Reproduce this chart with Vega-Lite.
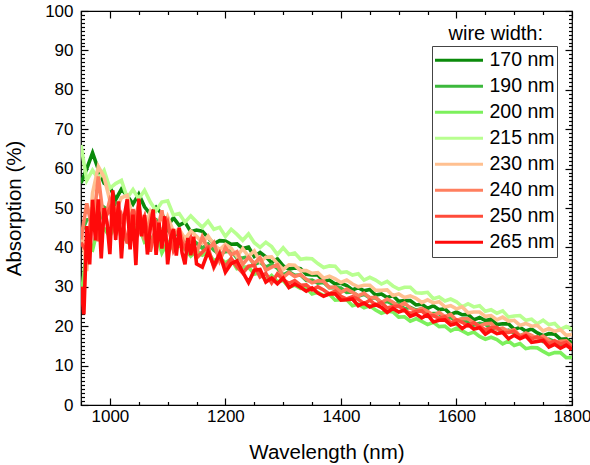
{
  "$schema": "https://vega.github.io/schema/vega-lite/v6.json",
  "width": 491,
  "height": 394,
  "autosize": {"type": "none"},
  "padding": {"left": 81, "top": 11, "right": 18, "bottom": 60},
  "background": "white",
  "config": {
    "font": "Liberation Sans",
    "view": {"stroke": "black", "strokeWidth": 1.2},
    "axis": {"grid": false, "domain": false, "tickColor": "black", "labelColor": "black", "titleColor": "black", "titleFontWeight": "normal", "labelFont": "Liberation Sans", "titleFont": "Liberation Sans", "tickWidth": 1.2}
  },
  "resolve": {"axis": {"x": "independent", "y": "independent"}},
  "layer": [
    {
      "data": {"values": [
{"s":"170 nm","w":950,"a":56.3},{"s":"170 nm","w":960,"a":60},{"s":"170 nm","w":970,"a":64},{"s":"170 nm","w":980,"a":59.8},{"s":"170 nm","w":990,"a":56.3},{"s":"170 nm","w":1000,"a":55.4},{"s":"170 nm","w":1010,"a":52.1},{"s":"170 nm","w":1020,"a":54.8},{"s":"170 nm","w":1030,"a":53.1},{"s":"170 nm","w":1040,"a":51},
{"s":"170 nm","w":1050,"a":53.5},{"s":"170 nm","w":1060,"a":50.3},{"s":"170 nm","w":1070,"a":48.4},{"s":"170 nm","w":1080,"a":50.2},{"s":"170 nm","w":1090,"a":48.5},{"s":"170 nm","w":1100,"a":45.5},{"s":"170 nm","w":1110,"a":47.5},{"s":"170 nm","w":1120,"a":45.6},{"s":"170 nm","w":1130,"a":46.4},{"s":"170 nm","w":1140,"a":44},
{"s":"170 nm","w":1150,"a":44.4},{"s":"170 nm","w":1160,"a":44.1},{"s":"170 nm","w":1170,"a":42.5},{"s":"170 nm","w":1180,"a":40.9},{"s":"170 nm","w":1190,"a":41.7},{"s":"170 nm","w":1200,"a":41.6},{"s":"170 nm","w":1210,"a":40.8},{"s":"170 nm","w":1220,"a":40.9},{"s":"170 nm","w":1230,"a":39.7},{"s":"170 nm","w":1240,"a":40.1},
{"s":"170 nm","w":1250,"a":37.7},{"s":"170 nm","w":1260,"a":38.7},{"s":"170 nm","w":1270,"a":37.6},{"s":"170 nm","w":1280,"a":36.1},{"s":"170 nm","w":1290,"a":37.1},{"s":"170 nm","w":1300,"a":35.3},{"s":"170 nm","w":1310,"a":34.5},{"s":"170 nm","w":1320,"a":34.8},{"s":"170 nm","w":1330,"a":34.6},{"s":"170 nm","w":1340,"a":33.2},
{"s":"170 nm","w":1350,"a":33},{"s":"170 nm","w":1360,"a":33},{"s":"170 nm","w":1370,"a":31.4},{"s":"170 nm","w":1380,"a":31.7},{"s":"170 nm","w":1390,"a":30.7},{"s":"170 nm","w":1400,"a":30.9},{"s":"170 nm","w":1410,"a":30.3},{"s":"170 nm","w":1420,"a":29.2},{"s":"170 nm","w":1430,"a":29.8},{"s":"170 nm","w":1440,"a":29},
{"s":"170 nm","w":1450,"a":29.3},{"s":"170 nm","w":1460,"a":27.9},{"s":"170 nm","w":1470,"a":28.2},{"s":"170 nm","w":1480,"a":27.3},{"s":"170 nm","w":1490,"a":27.8},{"s":"170 nm","w":1500,"a":26.3},{"s":"170 nm","w":1510,"a":26.5},{"s":"170 nm","w":1520,"a":26.5},{"s":"170 nm","w":1530,"a":25.4},{"s":"170 nm","w":1540,"a":25.6},
{"s":"170 nm","w":1550,"a":24.5},{"s":"170 nm","w":1560,"a":25.2},{"s":"170 nm","w":1570,"a":24.2},{"s":"170 nm","w":1580,"a":24.4},{"s":"170 nm","w":1590,"a":23},{"s":"170 nm","w":1600,"a":23.6},{"s":"170 nm","w":1610,"a":22.9},{"s":"170 nm","w":1620,"a":23},{"s":"170 nm","w":1630,"a":21.6},{"s":"170 nm","w":1640,"a":22.2},
{"s":"170 nm","w":1650,"a":21.4},{"s":"170 nm","w":1660,"a":21.8},{"s":"170 nm","w":1670,"a":20.4},{"s":"170 nm","w":1680,"a":20.6},{"s":"170 nm","w":1690,"a":20.6},{"s":"170 nm","w":1700,"a":19.2},{"s":"170 nm","w":1710,"a":19.7},{"s":"170 nm","w":1720,"a":18.8},{"s":"170 nm","w":1730,"a":19.3},{"s":"170 nm","w":1740,"a":18.3},
{"s":"170 nm","w":1750,"a":17.6},{"s":"170 nm","w":1760,"a":18.1},{"s":"170 nm","w":1770,"a":18},{"s":"170 nm","w":1780,"a":16.7},{"s":"170 nm","w":1790,"a":16.8},{"s":"170 nm","w":1800,"a":15.7},
{"s":"190 nm","w":950,"a":43.6},{"s":"190 nm","w":960,"a":47},{"s":"190 nm","w":970,"a":47.2},{"s":"190 nm","w":980,"a":46.2},{"s":"190 nm","w":990,"a":50.2},{"s":"190 nm","w":1000,"a":49.2},{"s":"190 nm","w":1010,"a":51},{"s":"190 nm","w":1020,"a":47.6},{"s":"190 nm","w":1030,"a":48.8},{"s":"190 nm","w":1040,"a":49},
{"s":"190 nm","w":1050,"a":46.8},{"s":"190 nm","w":1060,"a":44.8},{"s":"190 nm","w":1070,"a":46.6},{"s":"190 nm","w":1080,"a":47},{"s":"190 nm","w":1090,"a":43.6},{"s":"190 nm","w":1100,"a":44.4},{"s":"190 nm","w":1110,"a":43.1},{"s":"190 nm","w":1120,"a":43.5},{"s":"190 nm","w":1130,"a":41.2},{"s":"190 nm","w":1140,"a":42.2},
{"s":"190 nm","w":1150,"a":41.1},{"s":"190 nm","w":1160,"a":39.8},{"s":"190 nm","w":1170,"a":40.9},{"s":"190 nm","w":1180,"a":39.3},{"s":"190 nm","w":1190,"a":38.2},{"s":"190 nm","w":1200,"a":38.9},{"s":"190 nm","w":1210,"a":39.1},{"s":"190 nm","w":1220,"a":37.3},{"s":"190 nm","w":1230,"a":37.3},{"s":"190 nm","w":1240,"a":37.7},
{"s":"190 nm","w":1250,"a":35.6},{"s":"190 nm","w":1260,"a":36.3},{"s":"190 nm","w":1270,"a":35},{"s":"190 nm","w":1280,"a":35.7},{"s":"190 nm","w":1290,"a":34.7},{"s":"190 nm","w":1300,"a":33},{"s":"190 nm","w":1310,"a":33.8},{"s":"190 nm","w":1320,"a":32.9},{"s":"190 nm","w":1330,"a":33},{"s":"190 nm","w":1340,"a":31.6},
{"s":"190 nm","w":1350,"a":31.7},{"s":"190 nm","w":1360,"a":30.9},{"s":"190 nm","w":1370,"a":31.1},{"s":"190 nm","w":1380,"a":29.8},{"s":"190 nm","w":1390,"a":29.8},{"s":"190 nm","w":1400,"a":29.7},{"s":"190 nm","w":1410,"a":28.6},{"s":"190 nm","w":1420,"a":28.7},{"s":"190 nm","w":1430,"a":27.6},{"s":"190 nm","w":1440,"a":28.1},
{"s":"190 nm","w":1450,"a":27.2},{"s":"190 nm","w":1460,"a":27.2},{"s":"190 nm","w":1470,"a":26},{"s":"190 nm","w":1480,"a":26.3},{"s":"190 nm","w":1490,"a":25.6},{"s":"190 nm","w":1500,"a":25.7},{"s":"190 nm","w":1510,"a":24.4},{"s":"190 nm","w":1520,"a":24.8},{"s":"190 nm","w":1530,"a":24.1},{"s":"190 nm","w":1540,"a":24.4},
{"s":"190 nm","w":1550,"a":23.1},{"s":"190 nm","w":1560,"a":23.2},{"s":"190 nm","w":1570,"a":23.2},{"s":"190 nm","w":1580,"a":21.9},{"s":"190 nm","w":1590,"a":22.2},{"s":"190 nm","w":1600,"a":21.5},{"s":"190 nm","w":1610,"a":21.8},{"s":"190 nm","w":1620,"a":20.9},{"s":"190 nm","w":1630,"a":20.3},{"s":"190 nm","w":1640,"a":20.7},
{"s":"190 nm","w":1650,"a":20.5},{"s":"190 nm","w":1660,"a":19.4},{"s":"190 nm","w":1670,"a":19.4},{"s":"190 nm","w":1680,"a":18.5},{"s":"190 nm","w":1690,"a":19},{"s":"190 nm","w":1700,"a":18.3},{"s":"190 nm","w":1710,"a":17.6},{"s":"190 nm","w":1720,"a":18.1},{"s":"190 nm","w":1730,"a":17.1},{"s":"190 nm","w":1740,"a":17.2},
{"s":"190 nm","w":1750,"a":16.1},{"s":"190 nm","w":1760,"a":16.7},{"s":"190 nm","w":1770,"a":16.1},{"s":"190 nm","w":1780,"a":15.4},{"s":"190 nm","w":1790,"a":15.8},{"s":"190 nm","w":1800,"a":14.9},
{"s":"200 nm","w":950,"a":27.1},{"s":"200 nm","w":960,"a":39.8},{"s":"200 nm","w":970,"a":39.3},{"s":"200 nm","w":980,"a":45.5},{"s":"200 nm","w":990,"a":44.8},{"s":"200 nm","w":1000,"a":42.7},{"s":"200 nm","w":1010,"a":46.6},{"s":"200 nm","w":1020,"a":43.3},{"s":"200 nm","w":1030,"a":41.5},{"s":"200 nm","w":1040,"a":44.5},
{"s":"200 nm","w":1050,"a":45.7},{"s":"200 nm","w":1060,"a":41.3},{"s":"200 nm","w":1070,"a":42},{"s":"200 nm","w":1080,"a":43.6},{"s":"200 nm","w":1090,"a":38.6},{"s":"200 nm","w":1100,"a":41.4},{"s":"200 nm","w":1110,"a":39.5},{"s":"200 nm","w":1120,"a":40.4},{"s":"200 nm","w":1130,"a":39.5},{"s":"200 nm","w":1140,"a":37.8},
{"s":"200 nm","w":1150,"a":39.1},{"s":"200 nm","w":1160,"a":38},{"s":"200 nm","w":1170,"a":38.7},{"s":"200 nm","w":1180,"a":36.6},{"s":"200 nm","w":1190,"a":37.4},{"s":"200 nm","w":1200,"a":36.1},{"s":"200 nm","w":1210,"a":37},{"s":"200 nm","w":1220,"a":34.6},{"s":"200 nm","w":1230,"a":35},{"s":"200 nm","w":1240,"a":35},
{"s":"200 nm","w":1250,"a":33.2},{"s":"200 nm","w":1260,"a":33.6},{"s":"200 nm","w":1270,"a":31.7},{"s":"200 nm","w":1280,"a":32.9},{"s":"200 nm","w":1290,"a":31.3},{"s":"200 nm","w":1300,"a":31.6},{"s":"200 nm","w":1310,"a":29.9},{"s":"200 nm","w":1320,"a":30.4},{"s":"200 nm","w":1330,"a":29.6},{"s":"200 nm","w":1340,"a":29.7},
{"s":"200 nm","w":1350,"a":28.2},{"s":"200 nm","w":1360,"a":28.6},{"s":"200 nm","w":1370,"a":27.8},{"s":"200 nm","w":1380,"a":28.1},{"s":"200 nm","w":1390,"a":26.6},{"s":"200 nm","w":1400,"a":26.7},{"s":"200 nm","w":1410,"a":26.7},{"s":"200 nm","w":1420,"a":25.2},{"s":"200 nm","w":1430,"a":25.6},{"s":"200 nm","w":1440,"a":24.7},
{"s":"200 nm","w":1450,"a":25.2},{"s":"200 nm","w":1460,"a":24.1},{"s":"200 nm","w":1470,"a":23.3},{"s":"200 nm","w":1480,"a":23.8},{"s":"200 nm","w":1490,"a":23.6},{"s":"200 nm","w":1500,"a":22.3},{"s":"200 nm","w":1510,"a":22.4},{"s":"200 nm","w":1520,"a":21.3},{"s":"200 nm","w":1530,"a":21.9},{"s":"200 nm","w":1540,"a":21.2},
{"s":"200 nm","w":1550,"a":20.4},{"s":"200 nm","w":1560,"a":21},{"s":"200 nm","w":1570,"a":19.9},{"s":"200 nm","w":1580,"a":20},{"s":"200 nm","w":1590,"a":18.8},{"s":"200 nm","w":1600,"a":19.5},{"s":"200 nm","w":1610,"a":18.8},{"s":"200 nm","w":1620,"a":18},{"s":"200 nm","w":1630,"a":18.5},{"s":"200 nm","w":1640,"a":17.4},
{"s":"200 nm","w":1650,"a":16.7},{"s":"200 nm","w":1660,"a":17.2},{"s":"200 nm","w":1670,"a":16.6},{"s":"200 nm","w":1680,"a":15.5},{"s":"200 nm","w":1690,"a":16.2},{"s":"200 nm","w":1700,"a":15.1},{"s":"200 nm","w":1710,"a":15.6},{"s":"200 nm","w":1720,"a":14.3},{"s":"200 nm","w":1730,"a":14.6},{"s":"200 nm","w":1740,"a":14.5},
{"s":"200 nm","w":1750,"a":13.6},{"s":"200 nm","w":1760,"a":12.8},{"s":"200 nm","w":1770,"a":13.3},{"s":"200 nm","w":1780,"a":13.3},{"s":"200 nm","w":1790,"a":12},{"s":"200 nm","w":1800,"a":12.1},
{"s":"215 nm","w":950,"a":66},{"s":"215 nm","w":960,"a":57},{"s":"215 nm","w":970,"a":59.6},{"s":"215 nm","w":980,"a":57.4},{"s":"215 nm","w":990,"a":59.5},{"s":"215 nm","w":1000,"a":55},{"s":"215 nm","w":1010,"a":56.2},{"s":"215 nm","w":1020,"a":57},{"s":"215 nm","w":1030,"a":52.6},{"s":"215 nm","w":1040,"a":54.7},
{"s":"215 nm","w":1050,"a":52.3},{"s":"215 nm","w":1060,"a":54.5},{"s":"215 nm","w":1070,"a":51.5},{"s":"215 nm","w":1080,"a":49.3},{"s":"215 nm","w":1090,"a":51.5},{"s":"215 nm","w":1100,"a":51.8},{"s":"215 nm","w":1110,"a":48.2},{"s":"215 nm","w":1120,"a":48.6},{"s":"215 nm","w":1130,"a":46.4},{"s":"215 nm","w":1140,"a":48},
{"s":"215 nm","w":1150,"a":46.5},{"s":"215 nm","w":1160,"a":45.1},{"s":"215 nm","w":1170,"a":46.7},{"s":"215 nm","w":1180,"a":44.6},{"s":"215 nm","w":1190,"a":45.1},{"s":"215 nm","w":1200,"a":42.8},{"s":"215 nm","w":1210,"a":44.6},{"s":"215 nm","w":1220,"a":43.3},{"s":"215 nm","w":1230,"a":41.8},{"s":"215 nm","w":1240,"a":43.4},
{"s":"215 nm","w":1250,"a":41.2},{"s":"215 nm","w":1260,"a":40},{"s":"215 nm","w":1270,"a":41.3},{"s":"215 nm","w":1280,"a":40.2},{"s":"215 nm","w":1290,"a":38.2},{"s":"215 nm","w":1300,"a":39.9},{"s":"215 nm","w":1310,"a":38.2},{"s":"215 nm","w":1320,"a":38.6},{"s":"215 nm","w":1330,"a":37},{"s":"215 nm","w":1340,"a":37.2},
{"s":"215 nm","w":1350,"a":37.1},{"s":"215 nm","w":1360,"a":35.9},{"s":"215 nm","w":1370,"a":34.9},{"s":"215 nm","w":1380,"a":35.3},{"s":"215 nm","w":1390,"a":35.2},{"s":"215 nm","w":1400,"a":33.6},{"s":"215 nm","w":1410,"a":33.8},{"s":"215 nm","w":1420,"a":33},{"s":"215 nm","w":1430,"a":33.3},{"s":"215 nm","w":1440,"a":31.7},
{"s":"215 nm","w":1450,"a":32.4},{"s":"215 nm","w":1460,"a":31.7},{"s":"215 nm","w":1470,"a":30.7},{"s":"215 nm","w":1480,"a":31.4},{"s":"215 nm","w":1490,"a":30.2},{"s":"215 nm","w":1500,"a":29.4},{"s":"215 nm","w":1510,"a":29.9},{"s":"215 nm","w":1520,"a":29.9},{"s":"215 nm","w":1530,"a":28.5},{"s":"215 nm","w":1540,"a":28.4},
{"s":"215 nm","w":1550,"a":28.6},{"s":"215 nm","w":1560,"a":27},{"s":"215 nm","w":1570,"a":27.4},{"s":"215 nm","w":1580,"a":26.4},{"s":"215 nm","w":1590,"a":26.9},{"s":"215 nm","w":1600,"a":26.2},{"s":"215 nm","w":1610,"a":24.9},{"s":"215 nm","w":1620,"a":25.7},{"s":"215 nm","w":1630,"a":24.9},{"s":"215 nm","w":1640,"a":25.2},
{"s":"215 nm","w":1650,"a":23.8},{"s":"215 nm","w":1660,"a":24.2},{"s":"215 nm","w":1670,"a":23.3},{"s":"215 nm","w":1680,"a":23.9},{"s":"215 nm","w":1690,"a":22.3},{"s":"215 nm","w":1700,"a":22.6},{"s":"215 nm","w":1710,"a":22.7},{"s":"215 nm","w":1720,"a":21.5},{"s":"215 nm","w":1730,"a":21.8},{"s":"215 nm","w":1740,"a":20.6},
{"s":"215 nm","w":1750,"a":21.5},{"s":"215 nm","w":1760,"a":20.4},{"s":"215 nm","w":1770,"a":20.7},{"s":"215 nm","w":1780,"a":19.2},{"s":"215 nm","w":1790,"a":19.9},{"s":"215 nm","w":1800,"a":19.2},
{"s":"230 nm","w":950,"a":45},{"s":"230 nm","w":960,"a":34},{"s":"230 nm","w":970,"a":53.8},{"s":"230 nm","w":980,"a":60.5},{"s":"230 nm","w":990,"a":57.8},{"s":"230 nm","w":1000,"a":51.9},{"s":"230 nm","w":1010,"a":49.3},{"s":"230 nm","w":1020,"a":52.6},{"s":"230 nm","w":1030,"a":53.2},{"s":"230 nm","w":1040,"a":47.4},
{"s":"230 nm","w":1050,"a":49},{"s":"230 nm","w":1060,"a":44.5},{"s":"230 nm","w":1070,"a":49.1},{"s":"230 nm","w":1080,"a":46.3},{"s":"230 nm","w":1090,"a":43.6},{"s":"230 nm","w":1100,"a":47.8},{"s":"230 nm","w":1110,"a":44},{"s":"230 nm","w":1120,"a":44.6},{"s":"230 nm","w":1130,"a":42.2},{"s":"230 nm","w":1140,"a":44.1},
{"s":"230 nm","w":1150,"a":42.8},{"s":"230 nm","w":1160,"a":41.2},{"s":"230 nm","w":1170,"a":42.9},{"s":"230 nm","w":1180,"a":40.7},{"s":"230 nm","w":1190,"a":39.4},{"s":"230 nm","w":1200,"a":40.8},{"s":"230 nm","w":1210,"a":39.8},{"s":"230 nm","w":1220,"a":37.7},{"s":"230 nm","w":1230,"a":39.7},{"s":"230 nm","w":1240,"a":37.7},
{"s":"230 nm","w":1250,"a":39.1},{"s":"230 nm","w":1260,"a":36.4},{"s":"230 nm","w":1270,"a":37.5},{"s":"230 nm","w":1280,"a":37.6},{"s":"230 nm","w":1290,"a":35.9},{"s":"230 nm","w":1300,"a":34.4},{"s":"230 nm","w":1310,"a":35.6},{"s":"230 nm","w":1320,"a":35.5},{"s":"230 nm","w":1330,"a":34.1},{"s":"230 nm","w":1340,"a":34.1},
{"s":"230 nm","w":1350,"a":33.4},{"s":"230 nm","w":1360,"a":33.6},{"s":"230 nm","w":1370,"a":32.2},{"s":"230 nm","w":1380,"a":32.7},{"s":"230 nm","w":1390,"a":32},{"s":"230 nm","w":1400,"a":31.1},{"s":"230 nm","w":1410,"a":31.7},{"s":"230 nm","w":1420,"a":30.7},{"s":"230 nm","w":1430,"a":30},{"s":"230 nm","w":1440,"a":30.4},
{"s":"230 nm","w":1450,"a":30.4},{"s":"230 nm","w":1460,"a":29.1},{"s":"230 nm","w":1470,"a":29.1},{"s":"230 nm","w":1480,"a":29.2},{"s":"230 nm","w":1490,"a":27.8},{"s":"230 nm","w":1500,"a":28.2},{"s":"230 nm","w":1510,"a":27.3},{"s":"230 nm","w":1520,"a":27.7},{"s":"230 nm","w":1530,"a":27.1},{"s":"230 nm","w":1540,"a":26},
{"s":"230 nm","w":1550,"a":26.7},{"s":"230 nm","w":1560,"a":25.9},{"s":"230 nm","w":1570,"a":26.2},{"s":"230 nm","w":1580,"a":24.9},{"s":"230 nm","w":1590,"a":25.2},{"s":"230 nm","w":1600,"a":24.4},{"s":"230 nm","w":1610,"a":24.9},{"s":"230 nm","w":1620,"a":23.4},{"s":"230 nm","w":1630,"a":23.6},{"s":"230 nm","w":1640,"a":23.6},
{"s":"230 nm","w":1650,"a":22.5},{"s":"230 nm","w":1660,"a":22.7},{"s":"230 nm","w":1670,"a":21.6},{"s":"230 nm","w":1680,"a":22.3},{"s":"230 nm","w":1690,"a":21.3},{"s":"230 nm","w":1700,"a":21.5},{"s":"230 nm","w":1710,"a":20.2},{"s":"230 nm","w":1720,"a":20.7},{"s":"230 nm","w":1730,"a":20},{"s":"230 nm","w":1740,"a":20.2},
{"s":"230 nm","w":1750,"a":18.8},{"s":"230 nm","w":1760,"a":19.4},{"s":"230 nm","w":1770,"a":18.7},{"s":"230 nm","w":1780,"a":19.1},{"s":"230 nm","w":1790,"a":17.7},{"s":"230 nm","w":1800,"a":17.9},
{"s":"240 nm","w":950,"a":42},{"s":"240 nm","w":960,"a":51.2},{"s":"240 nm","w":970,"a":44.2},{"s":"240 nm","w":980,"a":58},{"s":"240 nm","w":990,"a":46},{"s":"240 nm","w":1000,"a":52.1},{"s":"240 nm","w":1010,"a":49.2},{"s":"240 nm","w":1020,"a":42.1},{"s":"240 nm","w":1030,"a":50},{"s":"240 nm","w":1040,"a":45.9},
{"s":"240 nm","w":1050,"a":50.8},{"s":"240 nm","w":1060,"a":41.9},{"s":"240 nm","w":1070,"a":47.4},{"s":"240 nm","w":1080,"a":42.7},{"s":"240 nm","w":1090,"a":49.4},{"s":"240 nm","w":1100,"a":39.3},{"s":"240 nm","w":1110,"a":43.3},{"s":"240 nm","w":1120,"a":44.3},{"s":"240 nm","w":1130,"a":40.5},{"s":"240 nm","w":1140,"a":42.4},
{"s":"240 nm","w":1150,"a":38.6},{"s":"240 nm","w":1160,"a":42.7},{"s":"240 nm","w":1170,"a":39.5},{"s":"240 nm","w":1180,"a":41.2},{"s":"240 nm","w":1190,"a":36.6},{"s":"240 nm","w":1200,"a":40},{"s":"240 nm","w":1210,"a":38.1},{"s":"240 nm","w":1220,"a":38.9},{"s":"240 nm","w":1230,"a":35.7},{"s":"240 nm","w":1240,"a":37.5},
{"s":"240 nm","w":1250,"a":35.9},{"s":"240 nm","w":1260,"a":37.4},{"s":"240 nm","w":1270,"a":34.2},{"s":"240 nm","w":1280,"a":35},{"s":"240 nm","w":1290,"a":35.6},{"s":"240 nm","w":1300,"a":32.4},{"s":"240 nm","w":1310,"a":33.6},{"s":"240 nm","w":1320,"a":32.6},{"s":"240 nm","w":1330,"a":33.1},{"s":"240 nm","w":1340,"a":31.9},
{"s":"240 nm","w":1350,"a":31},{"s":"240 nm","w":1360,"a":31.5},{"s":"240 nm","w":1370,"a":31.4},{"s":"240 nm","w":1380,"a":29.8},{"s":"240 nm","w":1390,"a":29.9},{"s":"240 nm","w":1400,"a":28.6},{"s":"240 nm","w":1410,"a":29.4},{"s":"240 nm","w":1420,"a":28.6},{"s":"240 nm","w":1430,"a":27.7},{"s":"240 nm","w":1440,"a":28.4},
{"s":"240 nm","w":1450,"a":27.2},{"s":"240 nm","w":1460,"a":27.3},{"s":"240 nm","w":1470,"a":26},{"s":"240 nm","w":1480,"a":26.9},{"s":"240 nm","w":1490,"a":26.1},{"s":"240 nm","w":1500,"a":25.1},{"s":"240 nm","w":1510,"a":25.9},{"s":"240 nm","w":1520,"a":24.6},{"s":"240 nm","w":1530,"a":23.9},{"s":"240 nm","w":1540,"a":24.5},
{"s":"240 nm","w":1550,"a":23.8},{"s":"240 nm","w":1560,"a":22.7},{"s":"240 nm","w":1570,"a":23.5},{"s":"240 nm","w":1580,"a":22.4},{"s":"240 nm","w":1590,"a":23},{"s":"240 nm","w":1600,"a":21.5},{"s":"240 nm","w":1610,"a":21.9},{"s":"240 nm","w":1620,"a":21.9},{"s":"240 nm","w":1630,"a":20.9},{"s":"240 nm","w":1640,"a":20},
{"s":"240 nm","w":1650,"a":20.6},{"s":"240 nm","w":1660,"a":20.7},{"s":"240 nm","w":1670,"a":19.2},{"s":"240 nm","w":1680,"a":19.5},{"s":"240 nm","w":1690,"a":18.7},{"s":"240 nm","w":1700,"a":19.1},{"s":"240 nm","w":1710,"a":17.5},{"s":"240 nm","w":1720,"a":18.3},{"s":"240 nm","w":1730,"a":17.7},{"s":"240 nm","w":1740,"a":16.8},
{"s":"240 nm","w":1750,"a":17.5},{"s":"240 nm","w":1760,"a":16.4},{"s":"240 nm","w":1770,"a":15.6},{"s":"240 nm","w":1780,"a":16.2},{"s":"240 nm","w":1790,"a":16.3},{"s":"240 nm","w":1800,"a":14.9},
{"s":"250 nm","w":950,"a":41.2},{"s":"250 nm","w":960,"a":39},{"s":"250 nm","w":970,"a":50.2},{"s":"250 nm","w":980,"a":41.6},{"s":"250 nm","w":990,"a":46.9},{"s":"250 nm","w":1000,"a":49.9},{"s":"250 nm","w":1010,"a":43.3},{"s":"250 nm","w":1020,"a":47.9},{"s":"250 nm","w":1030,"a":41},{"s":"250 nm","w":1040,"a":49.7},
{"s":"250 nm","w":1050,"a":43.9},{"s":"250 nm","w":1060,"a":47.8},{"s":"250 nm","w":1070,"a":38.9},{"s":"250 nm","w":1080,"a":46.2},{"s":"250 nm","w":1090,"a":42.7},{"s":"250 nm","w":1100,"a":46.4},{"s":"250 nm","w":1110,"a":39.3},{"s":"250 nm","w":1120,"a":42.5},{"s":"250 nm","w":1130,"a":39.9},{"s":"250 nm","w":1140,"a":42.5},
{"s":"250 nm","w":1150,"a":37.3},{"s":"250 nm","w":1160,"a":38.8},{"s":"250 nm","w":1170,"a":40},{"s":"250 nm","w":1180,"a":34.9},{"s":"250 nm","w":1190,"a":37.7},{"s":"250 nm","w":1200,"a":35.1},{"s":"250 nm","w":1210,"a":37.2},{"s":"250 nm","w":1220,"a":35.1},{"s":"250 nm","w":1230,"a":33.5},{"s":"250 nm","w":1240,"a":35.2},
{"s":"250 nm","w":1250,"a":35.4},{"s":"250 nm","w":1260,"a":32.5},{"s":"250 nm","w":1270,"a":33.4},{"s":"250 nm","w":1280,"a":31},{"s":"250 nm","w":1290,"a":33.3},{"s":"250 nm","w":1300,"a":31.8},{"s":"250 nm","w":1310,"a":30.9},{"s":"250 nm","w":1320,"a":31.6},{"s":"250 nm","w":1330,"a":30.4},{"s":"250 nm","w":1340,"a":30.5},
{"s":"250 nm","w":1350,"a":29.2},{"s":"250 nm","w":1360,"a":30},{"s":"250 nm","w":1370,"a":29.2},{"s":"250 nm","w":1380,"a":28.2},{"s":"250 nm","w":1390,"a":28.9},{"s":"250 nm","w":1400,"a":27.6},{"s":"250 nm","w":1410,"a":26.9},{"s":"250 nm","w":1420,"a":27.5},{"s":"250 nm","w":1430,"a":26.8},{"s":"250 nm","w":1440,"a":25.7},
{"s":"250 nm","w":1450,"a":26.6},{"s":"250 nm","w":1460,"a":25.4},{"s":"250 nm","w":1470,"a":26},{"s":"250 nm","w":1480,"a":24.6},{"s":"250 nm","w":1490,"a":25},{"s":"250 nm","w":1500,"a":25.1},{"s":"250 nm","w":1510,"a":24.1},{"s":"250 nm","w":1520,"a":23.2},{"s":"250 nm","w":1530,"a":23.8},{"s":"250 nm","w":1540,"a":23.9},
{"s":"250 nm","w":1550,"a":22.5},{"s":"250 nm","w":1560,"a":22.7},{"s":"250 nm","w":1570,"a":22},{"s":"250 nm","w":1580,"a":22.4},{"s":"250 nm","w":1590,"a":20.8},{"s":"250 nm","w":1600,"a":21.6},{"s":"250 nm","w":1610,"a":21},{"s":"250 nm","w":1620,"a":20.1},{"s":"250 nm","w":1630,"a":20.9},{"s":"250 nm","w":1640,"a":19.8},
{"s":"250 nm","w":1650,"a":19.1},{"s":"250 nm","w":1660,"a":19.6},{"s":"250 nm","w":1670,"a":19.7},{"s":"250 nm","w":1680,"a":18.4},{"s":"250 nm","w":1690,"a":18.4},{"s":"250 nm","w":1700,"a":18.7},{"s":"250 nm","w":1710,"a":17.2},{"s":"250 nm","w":1720,"a":17.7},{"s":"250 nm","w":1730,"a":16.8},{"s":"250 nm","w":1740,"a":17.3},
{"s":"250 nm","w":1750,"a":16.7},{"s":"250 nm","w":1760,"a":15.5},{"s":"250 nm","w":1770,"a":16.3},{"s":"250 nm","w":1780,"a":15.5},{"s":"250 nm","w":1790,"a":15.9},{"s":"250 nm","w":1800,"a":14.5},
{"s":"265 nm","w":950,"a":30},{"s":"265 nm","w":955,"a":23},{"s":"265 nm","w":960,"a":45.4},{"s":"265 nm","w":965,"a":35.7},{"s":"265 nm","w":970,"a":52.1},{"s":"265 nm","w":975,"a":41.8},{"s":"265 nm","w":980,"a":52.2},{"s":"265 nm","w":985,"a":37.2},{"s":"265 nm","w":990,"a":50},{"s":"265 nm","w":995,"a":46.4},
{"s":"265 nm","w":1000,"a":38.3},{"s":"265 nm","w":1005,"a":54.5},{"s":"265 nm","w":1010,"a":41.9},{"s":"265 nm","w":1015,"a":51.7},{"s":"265 nm","w":1020,"a":37.2},{"s":"265 nm","w":1025,"a":47.9},{"s":"265 nm","w":1030,"a":52.2},{"s":"265 nm","w":1035,"a":39.5},{"s":"265 nm","w":1040,"a":48.3},{"s":"265 nm","w":1045,"a":35.5},
{"s":"265 nm","w":1050,"a":52.4},{"s":"265 nm","w":1055,"a":42.8},{"s":"265 nm","w":1060,"a":48.2},{"s":"265 nm","w":1065,"a":38.2},{"s":"265 nm","w":1070,"a":44.9},{"s":"265 nm","w":1075,"a":49.6},{"s":"265 nm","w":1080,"a":38.1},{"s":"265 nm","w":1085,"a":46.3},{"s":"265 nm","w":1090,"a":39.7},{"s":"265 nm","w":1095,"a":47.9},
{"s":"265 nm","w":1100,"a":35.7},{"s":"265 nm","w":1105,"a":42.1},{"s":"265 nm","w":1110,"a":44.7},{"s":"265 nm","w":1115,"a":37.9},{"s":"265 nm","w":1120,"a":45},{"s":"265 nm","w":1125,"a":38.6},{"s":"265 nm","w":1130,"a":35.7},{"s":"265 nm","w":1135,"a":42.4},{"s":"265 nm","w":1140,"a":38},{"s":"265 nm","w":1145,"a":42.7},
{"s":"265 nm","w":1150,"a":35.8},{"s":"265 nm","w":1160,"a":35},{"s":"265 nm","w":1170,"a":38.9},{"s":"265 nm","w":1180,"a":35.3},{"s":"265 nm","w":1190,"a":38.4},{"s":"265 nm","w":1200,"a":33.7},{"s":"265 nm","w":1210,"a":35.9},{"s":"265 nm","w":1220,"a":36.6},{"s":"265 nm","w":1230,"a":33.7},{"s":"265 nm","w":1240,"a":31.1},
{"s":"265 nm","w":1250,"a":34.2},{"s":"265 nm","w":1260,"a":34.4},{"s":"265 nm","w":1270,"a":31.2},{"s":"265 nm","w":1280,"a":32.2},{"s":"265 nm","w":1290,"a":30.8},{"s":"265 nm","w":1300,"a":32.2},{"s":"265 nm","w":1310,"a":29.8},{"s":"265 nm","w":1320,"a":30.7},{"s":"265 nm","w":1330,"a":29.9},{"s":"265 nm","w":1340,"a":28.9},
{"s":"265 nm","w":1350,"a":29.7},{"s":"265 nm","w":1360,"a":28.4},{"s":"265 nm","w":1370,"a":27.6},{"s":"265 nm","w":1380,"a":28.2},{"s":"265 nm","w":1390,"a":28.2},{"s":"265 nm","w":1400,"a":26.6},{"s":"265 nm","w":1410,"a":26.7},{"s":"265 nm","w":1420,"a":26.9},{"s":"265 nm","w":1430,"a":25.2},{"s":"265 nm","w":1440,"a":25.9},
{"s":"265 nm","w":1450,"a":24.9},{"s":"265 nm","w":1460,"a":25.5},{"s":"265 nm","w":1470,"a":24.8},{"s":"265 nm","w":1480,"a":23.5},{"s":"265 nm","w":1490,"a":24.5},{"s":"265 nm","w":1500,"a":23.6},{"s":"265 nm","w":1510,"a":24.1},{"s":"265 nm","w":1520,"a":22.5},{"s":"265 nm","w":1530,"a":23.1},{"s":"265 nm","w":1540,"a":22.1},
{"s":"265 nm","w":1550,"a":22.9},{"s":"265 nm","w":1560,"a":21.1},{"s":"265 nm","w":1570,"a":21.5},{"s":"265 nm","w":1580,"a":21.6},{"s":"265 nm","w":1590,"a":20.3},{"s":"265 nm","w":1600,"a":20.7},{"s":"265 nm","w":1610,"a":19.4},{"s":"265 nm","w":1620,"a":20.4},{"s":"265 nm","w":1630,"a":19.3},{"s":"265 nm","w":1640,"a":19.6},
{"s":"265 nm","w":1650,"a":18},{"s":"265 nm","w":1660,"a":18.9},{"s":"265 nm","w":1670,"a":18.1},{"s":"265 nm","w":1680,"a":18.4},{"s":"265 nm","w":1690,"a":16.8},{"s":"265 nm","w":1700,"a":17.7},{"s":"265 nm","w":1710,"a":16.8},{"s":"265 nm","w":1720,"a":17.5},{"s":"265 nm","w":1730,"a":15.9},{"s":"265 nm","w":1740,"a":16.1},
{"s":"265 nm","w":1750,"a":16.4},{"s":"265 nm","w":1760,"a":14.7},{"s":"265 nm","w":1770,"a":15.4},{"s":"265 nm","w":1780,"a":14.4},{"s":"265 nm","w":1790,"a":15.2},{"s":"265 nm","w":1800,"a":14.1}
      ]},
      "mark": {"type": "line", "strokeWidth": 3.6, "clip": true},
      "encoding": {
        "x": {"field": "w", "type": "quantitative",
          "scale": {"domain": [950, 1800], "nice": false, "zero": false},
          "axis": {"orient": "bottom", "tickCount": 17, "format": "d",
            "labelExpr": "datum.value % 200 === 0 ? datum.label : ''",
            "tickSize": {"condition": {"test": "datum.value % 200 === 0", "value": -7}, "value": -3.5},
            "labelFlush": false, "labelOverlap": false, "labelBound": false,
            "labelFontSize": 17, "labelPadding": 10.5,
            "title": "Wavelength (nm)", "titleFontSize": 20.5, "titlePadding": 14}},
        "y": {"field": "a", "type": "quantitative",
          "scale": {"domain": [0, 100], "nice": false},
          "axis": {"orient": "left", "tickCount": 100,
            "labelExpr": "datum.value % 10 === 0 ? datum.label : ''",
            "tickSize": {"condition": {"test": "datum.value % 10 === 0", "value": -7}, "value": -3.5},
            "labelFlush": false, "labelOverlap": false, "labelBound": false,
            "labelFontSize": 17, "labelPadding": 15,
            "title": "Absorption (%)", "titleFontSize": 20.5, "titlePadding": 20}},
        "color": {"field": "s", "type": "nominal",
          "scale": {"domain": ["170 nm", "190 nm", "200 nm", "215 nm", "230 nm", "240 nm", "250 nm", "265 nm"],
            "range": ["#0b8a0b", "#3cb83c", "#7cf05c", "#b8ff90", "#ffc090", "#ff7f5f", "#ff4b3a", "#ff0a0a"]},
          "legend": {"orient": "none", "legendX": 351, "legendY": 35, "title": null,
            "strokeColor": "#444", "fillColor": "white", "padding": 1.5,
            "symbolType": "stroke", "symbolSize": 2304, "symbolStrokeWidth": 3,
            "labelFontSize": 19.5, "labelColor": "black", "labelOffset": 5,
            "clipHeight": 25.4, "rowPadding": 0}}
      }
    },
    {
      "data": {"values": [{"w": 1668, "a": 94.2, "t": "wire width:"}]},
      "mark": {"type": "text", "fontSize": 20, "align": "center", "baseline": "middle", "color": "black"},
      "encoding": {
        "x": {"field": "w", "type": "quantitative",
          "axis": {"orient": "top", "tickCount": 17, "labels": false, "title": null,
            "tickSize": {"condition": {"test": "datum.value % 200 === 0", "value": -7}, "value": -3.5}}},
        "y": {"field": "a", "type": "quantitative",
          "axis": {"orient": "right", "tickCount": 100, "labels": false, "title": null,
            "tickSize": {"condition": {"test": "datum.value % 10 === 0", "value": -7}, "value": -3.5}}},
        "text": {"field": "t"}
      }
    }
  ]
}
